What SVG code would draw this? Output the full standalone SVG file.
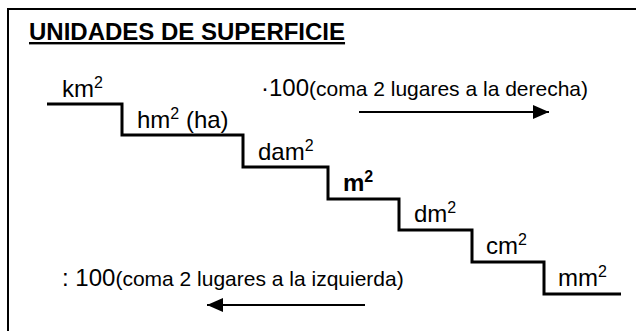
<svg xmlns="http://www.w3.org/2000/svg" width="636" height="331" viewBox="0 0 636 331">
<style>
text{font-family:"Liberation Sans",Arial,sans-serif;fill:#000}
.lbl{font-size:24px}
.sm{font-size:21px}
.sup{font-size:16px}
.ln{fill:none;stroke:#000}
</style>
<defs>
<marker id="ah" markerWidth="10" markerHeight="8" refX="9" refY="4" orient="auto" markerUnits="userSpaceOnUse" viewBox="0 0 10 8">
<path d="M0,0 L10,4 L0,8 Z" fill="#000"/>
</marker>
<marker id="ahb" markerWidth="16" markerHeight="14" refX="16" refY="7" orient="auto" markerUnits="userSpaceOnUse" viewBox="0 0 16 14">
<path d="M0,0 L16,7 L0,14 Z" fill="#000"/>
</marker>
</defs>
<rect width="636" height="331" fill="#fff"/>
<path class="ln" d="M8,331 V9 H636" stroke-width="2"/>
<g id="title">
<text x="29" y="40" font-size="24" font-weight="bold" text-decoration="underline">UNIDADES DE SUPERFICIE</text>
</g>
<g id="connectors">
<path id="stairs" class="ln" stroke-width="3" d="M47,104 H122 V135 H243 V167 H328 V199 H399 V230 H472 V262 H544 V294 H621"/>
<line class="ln" stroke-width="2" x1="359" y1="112" x2="549" y2="112" marker-end="url(#ahb)"/>
<line class="ln" stroke-width="2" x1="365" y1="305" x2="207" y2="305" marker-end="url(#ahb)"/>
</g>
<g id="km2"><text class="lbl" x="62" y="97">km<tspan class="sup" dy="-9">2</tspan></text></g>
<g id="hm2"><text class="lbl" x="137" y="128">hm<tspan class="sup" dy="-9">2</tspan><tspan dy="9"> (ha)</tspan></text></g>
<g id="dam2"><text class="lbl" x="258" y="160">dam<tspan class="sup" dy="-9">2</tspan></text></g>
<g id="m2"><text class="lbl" x="343" y="191" font-weight="bold">m<tspan class="sup" dy="-9">2</tspan></text></g>
<g id="dm2"><text class="lbl" x="414" y="222">dm<tspan class="sup" dy="-9">2</tspan></text></g>
<g id="cm2"><text class="lbl" x="486" y="254">cm<tspan class="sup" dy="-9">2</tspan></text></g>
<g id="mm2"><text class="lbl" x="558" y="286">mm<tspan class="sup" dy="-9">2</tspan></text></g>
<g id="mult"><text class="lbl" x="261" y="96">·100<tspan class="sm">(coma 2 lugares a la derecha)</tspan></text></g>
<g id="div"><text class="lbl" x="62" y="286">: 100<tspan class="sm">(coma 2 lugares a la izquierda)</tspan></text></g>
</svg>
